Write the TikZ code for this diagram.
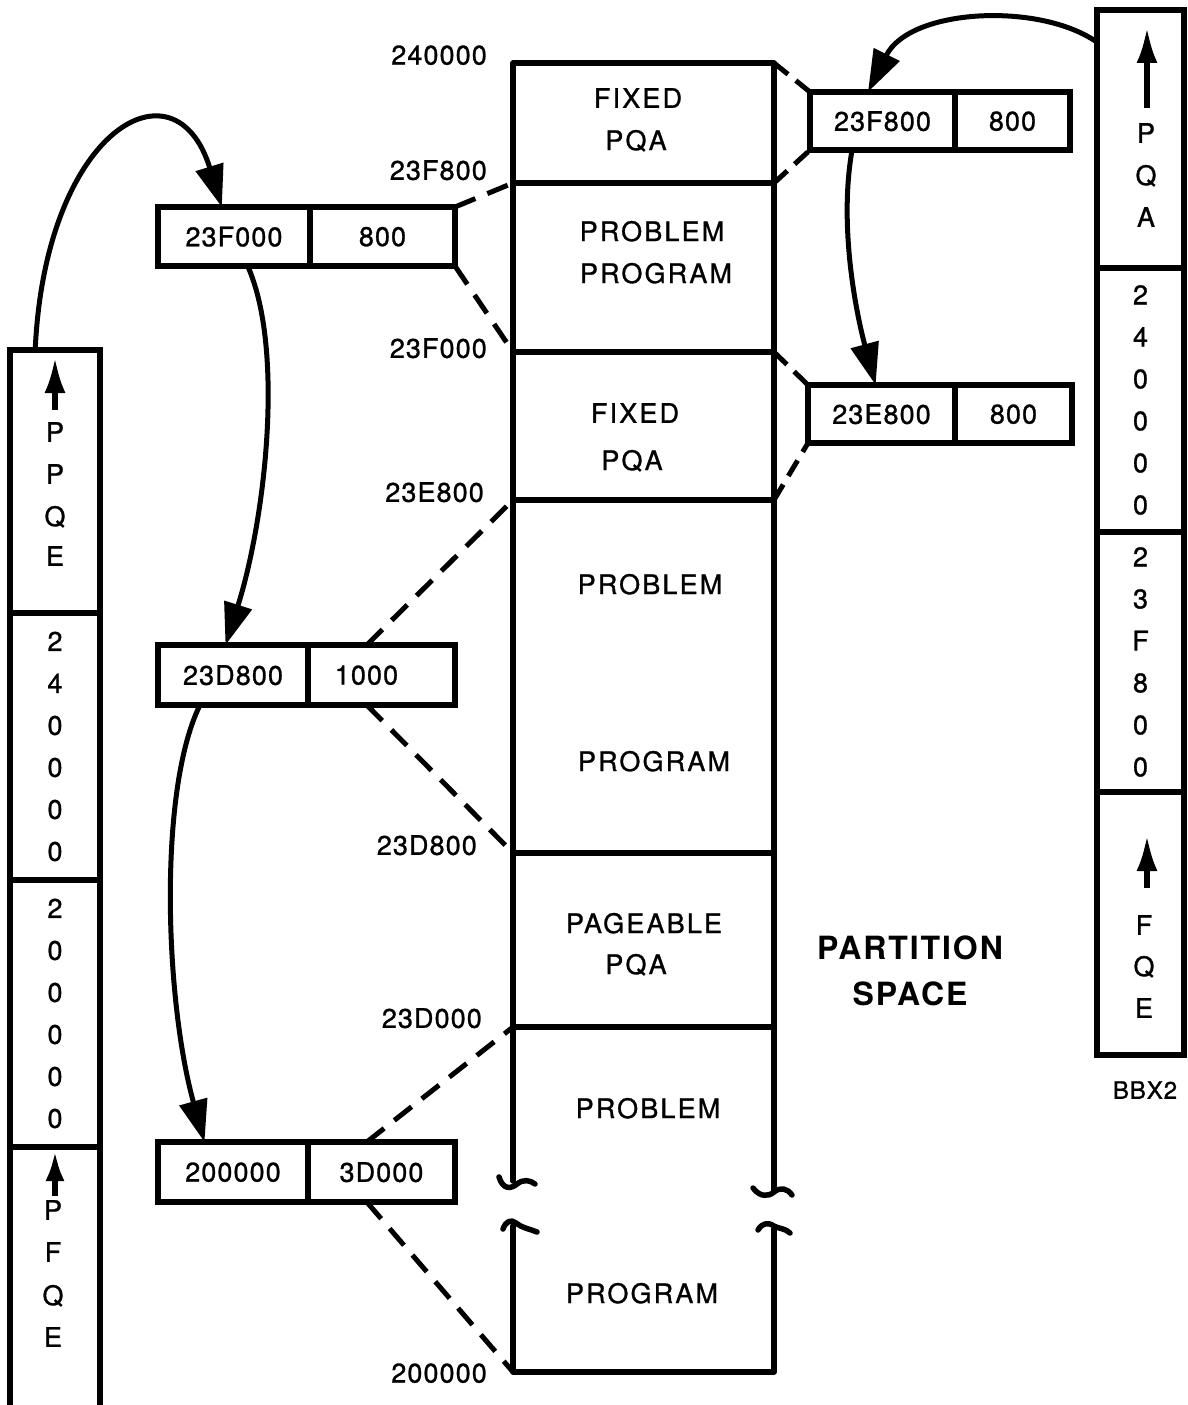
\documentclass[tikz,border=0pt]{standalone}
\usepackage{fontspec}
\setmainfont{TeX Gyre Heros}
\newfontfamily\lsfont[LetterSpace=4,FakeBold=1]{TeX Gyre Heros}
\newfontfamily\wsfont[LetterSpace=8,FakeBold=1]{TeX Gyre Heros}
\newfontfamily\bsfont[LetterSpace=6]{TeX Gyre Heros Bold}
\usetikzlibrary{arrows.meta,calc}
\begin{document}
\begin{tikzpicture}[x=1pt,y=-1pt,
  wall/.style={line width=5.5pt, line join=round, line cap=round},
  cell/.style={draw, line width=6pt, minimum height=59, inner sep=0pt, outer sep=0pt,
    font=\lsfont\fontsize{27}{30}\selectfont, text depth=0pt},
  seg/.style={draw, line width=6pt, inner sep=0pt, outer sep=0pt, align=center,
    font=\lsfont\fontsize{27}{42}\selectfont},
  lbl/.style={inner sep=0pt, font=\lsfont\fontsize{27}{30}\selectfont, text depth=0pt},
  word/.style={inner sep=0pt, font=\wsfont\fontsize{27}{30}\selectfont, text depth=0pt},
  addr/.style={lbl, anchor=east},
  big/.style={inner sep=0pt, font=\bsfont\fontsize{32}{36}\selectfont, text depth=0pt},
  dashline/.style={line width=5pt, dash pattern=on 22pt off 13pt},
  link/.style={line width=5pt, -{Triangle[length=42pt,width=28pt]}},
  uparrow/.style={line width=5.5pt, -{Latex[length=36pt,width=21pt]}},
]
\useasboundingbox (0,0) rectangle (1188,1405);
\clip (0,0) rectangle (1188,1405);

% ---------- main partition column ----------
\coordinate (c0L) at (513,63);   \coordinate (c0R) at (774,63);
\coordinate (c1L) at (513,183);  \coordinate (c1R) at (774,183);
\coordinate (c2L) at (513,352);  \coordinate (c2R) at (774,352);
\coordinate (c3L) at (513,500);  \coordinate (c3R) at (774,500);
\coordinate (c4L) at (513,853);  \coordinate (c4R) at (774,853);
\coordinate (c5L) at (513,1027); \coordinate (c5R) at (774,1027);
\coordinate (c6L) at (513,1372); \coordinate (c6R) at (774,1372);

\draw[wall] (513,1181) -- (c0L) -- (c0R) -- (774,1191);
\draw[wall] (513,1226) -- (c6L) -- (c6R) -- (774,1229);
\foreach \i in {1,...,5}{\draw[wall] (c\i L) -- (c\i R);}
% break marks
\draw[wall] (499,1177) .. controls (503,1190) and (511,1189) .. (517,1184)
            .. controls (523,1179) and (530,1180) .. (535,1184);
\draw[wall] (753,1188) .. controls (760,1197) and (768,1197) .. (774,1192)
            .. controls (780,1187) and (787,1188) .. (792,1195);
\draw[wall] (503,1229) .. controls (506,1221) and (511,1219) .. (516,1223)
            .. controls (522,1228) and (530,1229) .. (537,1232);
\draw[wall] (758,1230) .. controls (762,1223) and (768,1222) .. (774,1226)
            .. controls (779,1229) and (785,1228) .. (790,1233);

% column texts
\node[word] (t1) at (638,98) {FIXED};
\node[word] (t2) at (636,140) {PQA};
\node[word] (t3) at (652,231) {PROBLEM};
\node[word] (t4) at (656,273) {PROGRAM};
\node[word] (t5) at (635,413) {FIXED};
\node[word] (t6) at (632,460) {PQA};
\node[word] (t7) at (650,584) {PROBLEM};
\node[word] (t8) at (654,761) {PROGRAM};
\node[word] (t9) at (644,923) {PAGEABLE};
\node[word] (t10) at (636,964) {PQA};
\node[word] (t11) at (648,1108) {PROBLEM};
\node[word] (t12) at (642,1293) {PROGRAM};

% address labels
\node[addr] (a240) at (487,55) {240000};
\node[addr] (a23F8) at (487,170) {23F800};
\node[addr] (a23F0) at (487,348) {23F000};
\node[addr] (a23E8) at (484,492) {23E800};
\node[addr] (a23D8) at (477,845) {23D800};
\node[addr] (a23D0) at (482,1018) {23D000};
\node[addr] (a200) at (487,1373) {200000};

\node[big] (ps1) at (910,948) {PARTITION};
\node[big] (ps2) at (910,994) {SPACE};

% ---------- pair boxes ----------
\node[cell, minimum width=152] (a1) at (234,236.5) {23F000};
\node[cell, minimum width=145] (a2) at (382.5,236.5) {800};
\node[cell, minimum width=150, minimum height=60] (b1) at (233,675) {23D800};
\node[cell, minimum width=147, minimum height=60] (b2) at (381.5,675) {1000\hspace*{30pt}};
\node[cell, minimum width=150, minimum height=60] (d1) at (233,1172) {200000};
\node[cell, minimum width=147, minimum height=60] (d2) at (381.5,1172) {3D000};
\node[cell, minimum width=145, minimum height=58] (r1a) at (882.5,121) {23F800};
\node[cell, minimum width=115, minimum height=58] (r1b) at (1012.5,121) {800};
\node[cell, minimum width=147, minimum height=58] (r2a) at (881.5,414) {23E800};
\node[cell, minimum width=117, minimum height=58] (r2b) at (1013.5,414) {800};

% ---------- left queue column ----------
\node[seg, minimum width=90, minimum height=263] (p1) at (55,481.5) {};
\node[seg, minimum width=90, minimum height=267] (p2) at (55,746.5) {2\\4\\0\\0\\0\\0};
\node[seg, minimum width=90, minimum height=267] (p3) at (55,1013.5) {2\\0\\0\\0\\0\\0};
\node[seg, minimum width=90, minimum height=280] (p4) at (55,1287) {};
\coordinate (p1s) at (55,410); \coordinate (p1e) at (55,357);
\draw[uparrow] (p1s) -- (p1e);
\node[lbl] at (55,432) {P};
\node[lbl] at (55,474) {P};
\node[lbl] at (55,516) {Q};
\node[lbl] at (55,556) {E};
\coordinate (p4s) at (55,1196); \coordinate (p4e) at (55,1151);
\draw[uparrow, -{Latex[length=30pt,width=19pt]}] (p4s) -- (p4e);
\node[lbl] at (53,1210) {P};
\node[lbl] at (53,1252) {F};
\node[lbl] at (53,1295) {Q};
\node[lbl] at (53,1337) {E};

% ---------- right queue column ----------
\node[seg, minimum width=87, minimum height=258] (q1) at (1140.5,139) {};
\node[seg, minimum width=87, minimum height=264] (q2) at (1140.5,400) {2\\4\\0\\0\\0\\0};
\node[seg, minimum width=87, minimum height=260] (q3) at (1140.5,662) {2\\3\\F\\8\\0\\0};
\node[seg, minimum width=87, minimum height=263] (q4) at (1140.5,923.5) {};
\coordinate (q1s) at (1147,108); \coordinate (q1e) at (1147,27);
\draw[uparrow] (q1s) -- (q1e);
\node[lbl] at (1146,133) {P};
\node[lbl] at (1146,175) {Q};
\node[lbl] at (1146,217) {A};
\coordinate (q4s) at (1147,888); \coordinate (q4e) at (1147,835);
\draw[uparrow] (q4s) -- (q4e);
\node[lbl] at (1144,925) {F};
\node[lbl] at (1144,966) {Q};
\node[lbl] at (1144,1008) {E};
\node[lbl, font=\lsfont\fontsize{24}{28}\selectfont] (bbx) at (1145,1090) {BBX2};

% ---------- dashed mapping lines ----------
\draw[dashline] (a2.north east) -- (c1L);
\draw[dashline] (a2.south east) -- (c2L);
\draw[dashline] ($(b2.north west)!0.4!(b2.north east)$) -- (c3L);
\draw[dashline] ($(b2.south west)!0.4!(b2.south east)$) -- (c4L);
\draw[dashline] ($(d2.north west)!0.4!(d2.north east)$) -- (c5L);
\draw[dashline] ($(d2.south west)!0.4!(d2.south east)$) -- (c6L);
\draw[dashline, dash pattern=on 18pt off 10pt] (c0R) -- (r1a.north west);
\draw[dashline, dash pattern=on 18pt off 10pt] (c1R) -- (r1a.south west);
\draw[dashline, dash pattern=on 18pt off 10pt] (c2R) -- (r2a.north west);
\draw[dashline, dash pattern=on 18pt off 10pt] (c3R) -- (r2a.south west);

% ---------- chain arrows ----------
\draw[link] ($(p1.north west)!0.28!(p1.north east)$)
   .. controls (45,130) and (175,55) .. ($(a1.north west)!0.42!(a1.north east)$);
\draw[link] ($(a1.south west)!0.59!(a1.south east)$)
   .. controls (285,350) and (265,520) .. ($(b1.north west)!0.45!(b1.north east)$);
\draw[link] ($(b1.south west)!0.28!(b1.south east)$)
   .. controls (158,790) and (165,1000) .. ($(d1.north west)!0.31!(d1.north east)$);
\draw[link] ($(q1.north west)!0.125!(q1.south west)$)
   .. controls (1040,2) and (910,8) .. ($(r1a.north west)!0.40!(r1a.north east)$);
\draw[link] ($(r1a.south west)!0.29!(r1a.south east)$)
   .. controls (838,230) and (858,320) .. ($(r2a.north west)!0.46!(r2a.north east)$);
\end{tikzpicture}
\end{document}
